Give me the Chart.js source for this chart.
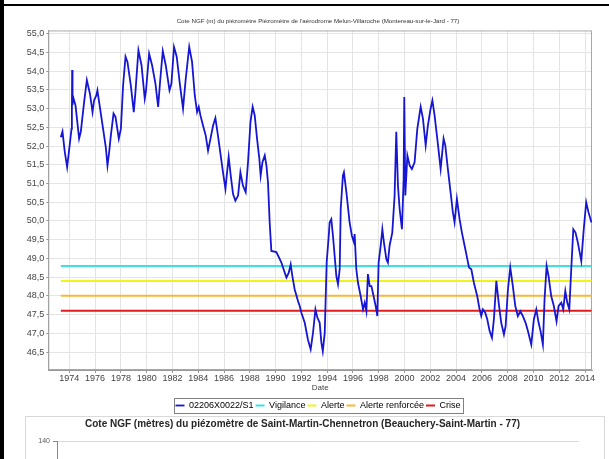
<!DOCTYPE html>
<html>
<head>
<meta charset="utf-8">
<script src="https://cdn.jsdelivr.net/npm/chart.js@4.4.0/dist/chart.umd.min.js"></script>
<style>
  body { margin: 0; width: 609px; height: 459px; overflow: hidden; background: #fff; position: relative; }
  #barLeft { position: absolute; left: 0; top: 0; width: 4px; height: 459px; background: #000; }
  #barTop { position: absolute; left: 0; top: 4px; width: 609px; height: 2px; background: #000; }
  #c1 { position: absolute; left: 4px; top: 6px; }
  #panel2 { position: absolute; left: 25px; top: 416px; width: 578px; height: 300px; border: 1px solid #d9d9d9; background: #fff; z-index: 2; }
</style>
</head>
<body>
<div id="barLeft"></div>
<div id="barTop"></div>
<canvas id="c1" width="628" height="414"></canvas>
<div id="panel2"><canvas id="c2" width="576" height="300"></canvas></div>
<script>
// piezometer level (m NGF)
const years = [
  1973.34,1973.47,1973.65,1973.83,1974.04,1974.17,1974.20,1974.22,1974.25,1974.30,
  1974.48,1974.76,1974.89,1975.15,1975.36,1975.60,1975.80,1975.92,1976.10,1976.18,
  1976.31,1976.62,1976.83,1976.96,1977.09,1977.22,1977.43,1977.58,1977.84,1978.00,
  1978.17,1978.36,1978.51,1978.77,1979.00,1979.13,1979.36,1979.60,1979.85,1979.95,
  1980.19,1980.42,1980.68,1980.89,1981.04,1981.25,1981.48,1981.77,1981.92,1982.12,
  1982.33,1982.57,1982.82,1983.03,1983.30,1983.52,1983.73,1983.91,1984.04,1984.17,
  1984.37,1984.58,1984.76,1984.95,1985.15,1985.33,1985.53,1985.74,1985.92,1986.11,
  1986.21,1986.36,1986.52,1986.70,1986.88,1987.09,1987.27,1987.47,1987.68,1987.86,
  1988.05,1988.22,1988.38,1988.56,1988.74,1988.84,1988.98,1989.16,1989.29,1989.41,
  1989.54,1989.67,1990.06,1990.45,1990.71,1990.84,1991.02,1991.17,1991.30,1991.48,
  1991.74,1991.87,1992.00,1992.26,1992.51,1992.72,1992.90,1993.09,1993.24,1993.42,
  1993.55,1993.66,1993.81,1993.96,1994.12,1994.19,1994.32,1994.45,1994.58,1994.71,
  1994.84,1994.97,1995.05,1995.22,1995.30,1995.49,1995.74,1995.92,1996.08,1996.13,
  1996.26,1996.39,1996.60,1996.78,1996.91,1997.04,1997.16,1997.30,1997.43,1997.60,
  1997.76,1997.89,1997.99,1998.15,1998.28,1998.40,1998.59,1998.71,1998.84,1999.05,
  1999.23,1999.36,1999.49,1999.62,1999.80,1999.93,1999.98,2000.06,2000.22,2000.40,
  2000.57,2000.78,2000.99,2001.25,2001.43,2001.64,2001.81,2002.02,2002.16,2002.33,
  2002.54,2002.80,2003.03,2003.16,2003.36,2003.57,2003.75,2003.88,2004.06,2004.27,
  2004.45,2004.66,2004.87,2005.00,2005.18,2005.38,2005.64,2005.82,2005.95,2006.08,
  2006.26,2006.42,2006.60,2006.78,2006.93,2007.12,2007.30,2007.50,2007.71,2007.84,
  2008.02,2008.20,2008.40,2008.59,2008.79,2008.98,2009.18,2009.39,2009.57,2009.83,
  2010.03,2010.22,2010.40,2010.55,2010.73,2010.86,2011.02,2011.17,2011.38,2011.58,
  2011.79,2011.95,2012.16,2012.31,2012.47,2012.62,2012.78,2012.93,2013.09,2013.26,
  2013.44,2013.71,2013.90,2014.09,2014.27,2014.50
];
const levels = [
  52.24,52.39,51.84,51.44,52.06,52.46,52.90,54.03,53.10,53.31,
  53.09,52.20,52.38,53.18,53.76,53.40,52.91,53.22,53.36,53.49,
  53.18,52.46,51.97,51.48,51.84,52.28,52.87,52.78,52.20,52.46,
  53.62,54.39,54.25,53.62,52.91,53.45,54.56,54.16,53.27,53.49,
  54.47,54.16,53.67,53.05,53.72,54.54,54.16,53.49,53.67,54.65,
  54.39,53.67,53.00,53.80,54.65,54.25,53.36,52.91,53.05,52.82,
  52.55,52.28,51.88,52.20,52.55,52.75,52.28,51.75,51.30,50.86,
  51.21,51.71,51.21,50.72,50.54,50.68,51.30,50.94,50.77,51.57,
  52.64,53.05,52.82,52.20,51.66,51.21,51.57,51.75,51.48,51.03,
  49.96,49.20,49.17,48.89,48.62,48.49,48.62,48.84,48.53,48.17,
  47.86,47.73,47.55,47.28,46.83,46.57,47.01,47.64,47.42,47.28,
  46.75,46.52,47.01,48.89,49.60,49.96,50.05,49.60,49.07,48.53,
  48.31,48.71,50.32,51.21,51.30,50.77,49.96,49.60,49.43,49.65,
  48.71,48.35,47.99,47.64,47.82,47.59,48.58,48.26,48.26,47.99,
  47.73,47.46,48.89,49.34,49.78,49.43,48.98,48.89,49.34,49.69,
  50.68,52.38,50.94,50.32,49.78,51.12,53.31,50.68,51.75,51.48,
  51.39,51.57,52.46,53.05,52.73,52.02,52.55,53.00,53.22,52.82,
  52.20,51.39,52.20,52.02,51.39,50.77,50.23,49.96,50.59,50.05,
  49.69,49.34,48.98,48.76,48.71,48.35,47.99,47.64,47.46,47.64,
  47.55,47.37,47.06,46.88,47.37,48.40,47.82,47.28,46.97,47.19,
  48.17,48.76,48.26,47.73,47.46,47.59,47.46,47.28,47.06,46.70,
  47.37,47.64,47.28,47.06,46.70,47.91,48.80,48.53,47.99,47.73,
  47.32,47.73,47.82,47.64,48.13,47.82,47.64,48.71,49.78,49.69,
  49.43,48.93,49.78,50.50,50.23,49.96
];
const seriesName = '02206X0022/S1';
const thresholdNames = ['Vigilance', 'Alerte', 'Alerte renforcée', 'Crise'];
const thresholdLevels = [48.8, 48.4, 48.0, 47.6];
const thresholdColors = ['#3fe0e0', '#f2f21c', '#f7b838', '#e01c1c'];

const xTicks = [1974,1976,1978,1980,1982,1984,1986,1988,1990,1992,1994,1996,1998,2000,2002,2004,2006,2008,2010,2012,2014];
const yTicks = [46.5,47.0,47.5,48.0,48.5,49.0,49.5,50.0,50.5,51.0,51.5,52.0,52.5,53.0,53.5,54.0,54.5,55.0];

// second (cut off) chart below
const title2 = 'Cote NGF (mètres) du piézomètre de Saint-Martin-Chennetron (Beauchery-Saint-Martin - 77)';
const y2Ticks = [0,20,40,60,80,100,120,140];

Chart.defaults.font.family = "'Liberation Sans', Arial, sans-serif";

const plotOutline = {
  id: 'plotOutline',
  beforeDatasetsDraw(chart) {
    const {ctx, chartArea: a} = chart;
    ctx.save();
    ctx.strokeStyle = '#a8a8a8';
    ctx.lineWidth = 1;
    ctx.strokeRect(a.left + 0.5, a.top + 0.5, a.right - a.left - 1, a.bottom - a.top - 1);
    ctx.restore();
  }
};

const legendFrame = {
  id: 'legendFrame',
  afterDraw(chart) {
    const boxes = chart.legend && chart.legend.legendHitBoxes;
    if (!boxes || !boxes.length) return;
    const left = Math.min(...boxes.map(b => b.left)) - 2;
    const right = Math.max(...boxes.map(b => b.left + b.width)) + 2;
    const top = boxes[0].top - 3;
    const bottom = boxes[0].top + boxes[0].height + 3;
    const ctx = chart.ctx;
    ctx.save();
    ctx.strokeStyle = '#808080';
    ctx.lineWidth = 1;
    ctx.strokeRect(Math.round(left) + 0.5, Math.round(top) + 0.5, Math.round(right - left), Math.round(bottom - top));
    ctx.restore();
  }
};

const datasets = [{
  label: seriesName,
  data: years.map((x, i) => ({x: x, y: levels[i]})),
  borderColor: '#1616d2',
  backgroundColor: '#1616d2',
  borderWidth: 1.8,
  pointRadius: 0
}];
thresholdLevels.forEach((lvl, i) => {
  datasets.push({
    label: thresholdNames[i],
    data: [{x: years[0], y: lvl}, {x: years[years.length - 1], y: lvl}],
    borderColor: thresholdColors[i],
    backgroundColor: thresholdColors[i],
    borderWidth: 2,
    pointRadius: 0
  });
});

new Chart(document.getElementById('c1'), {
  type: 'line',
  data: {datasets: datasets},
  options: {
    responsive: false,
    animation: false,
    layout: {padding: {left: 0, right: 0, top: 0, bottom: 0}},
    plugins: {
      title: {
        display: true,
        text: "Cote NGF (m) du piézomètre Piézomètre de l'aérodrome Melun-Villaroche (Montereau-sur-le-Jard - 77)",
        color: '#333',
        font: {size: 6.2, weight: 'normal'},
        padding: {top: 12, bottom: 5}
      },
      legend: {
        position: 'bottom',
        labels: {
          usePointStyle: true,
          pointStyle: 'line',
          pointStyleWidth: 9,
          boxHeight: 9,
          padding: 2,
          color: '#000',
          font: {size: 9}
        }
      },
      tooltip: {enabled: false}
    },
    scales: {
      x: {
        type: 'linear',
        min: 1972.37,
        max: 2014.54,
        afterBuildTicks: s => { s.ticks = xTicks.map(v => ({value: v})); },
        afterFit: s => { s.height = 29; },
        grid: {color: '#e4e4e4', tickColor: '#999', tickLength: 3},
        border: {color: '#999'},
        ticks: {color: '#444', font: {size: 9}, padding: 0, autoSkip: false, maxRotation: 0, callback: v => String(v)},
        title: {display: true, text: 'Date', color: '#444', font: {size: 8}, padding: {top: 0, bottom: 6}}
      },
      y: {
        min: 46.02,
        max: 55.09,
        afterBuildTicks: s => { s.ticks = yTicks.map(v => ({value: v})); },
        afterFit: s => { s.width = 44.3; },
        grid: {color: '#e4e4e4', tickColor: '#999', tickLength: 2},
        border: {color: '#999'},
        ticks: {color: '#444', font: {size: 9}, padding: 2, callback: v => v.toFixed(1).replace('.', ',')}
      },
      // empty right margin of the original image (title and legend stay centred on it)
      yMargin: {
        position: 'right',
        min: 0,
        max: 1,
        afterFit: s => { s.width = 40; },
        grid: {display: false},
        border: {display: false},
        ticks: {display: false}
      }
    }
  },
  plugins: [plotOutline, legendFrame]
});

new Chart(document.getElementById('c2'), {
  type: 'line',
  data: {datasets: []},
  options: {
    responsive: false,
    animation: false,
    layout: {padding: {left: 0, right: 23, top: 0, bottom: 0}},
    plugins: {
      title: {
        display: true,
        text: title2,
        color: '#262626',
        font: {size: 10, weight: 'bold'},
        padding: {top: 1, bottom: 11}
      },
      legend: {display: false},
      tooltip: {enabled: false}
    },
    scales: {
      x: {type: 'linear', display: false, min: 0, max: 1},
      y: {
        min: 0,
        max: 140,
        afterBuildTicks: s => { s.ticks = y2Ticks.map(v => ({value: v})); },
        afterFit: s => { s.width = 31; },
        grid: {color: '#d9d9d9', tickColor: '#888', tickLength: 4},
        border: {color: '#888'},
        ticks: {color: '#595959', font: {size: 7}, padding: 3}
      }
    }
  }
});
</script>
</body>
</html>
